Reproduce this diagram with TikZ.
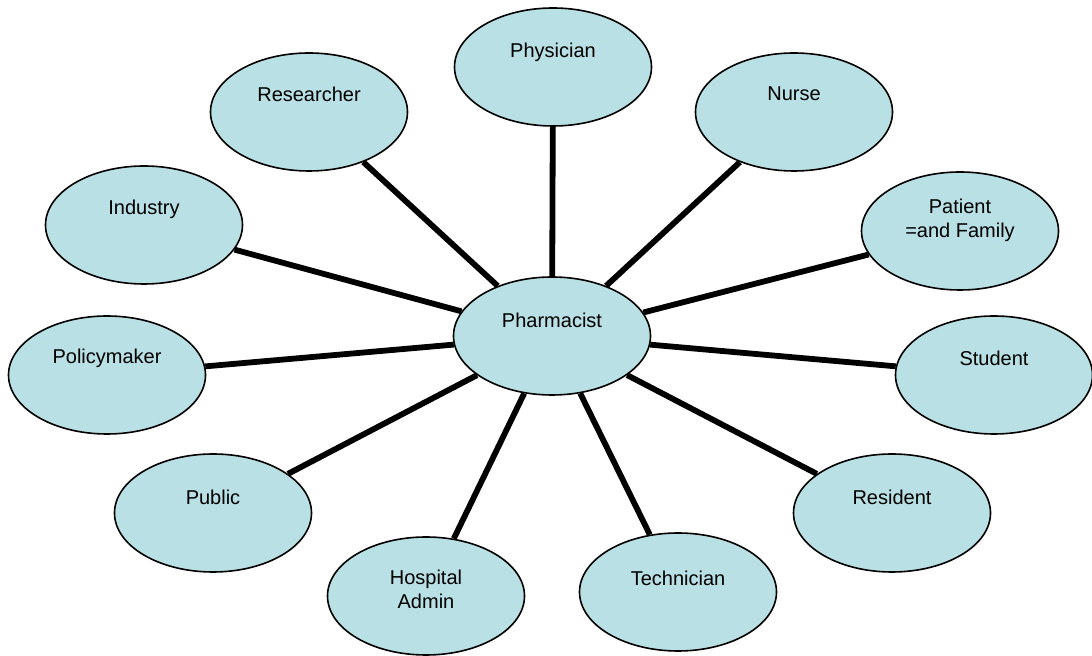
\documentclass[tikz,border=0pt]{standalone}
\usepackage{fontspec}
\setmainfont{Liberation Sans}
\usepackage{tikz}
\usetikzlibrary{calc,shapes.geometric}
\definecolor{bubblefill}{RGB}{185,224,228}
\newcommand{\stakeholder}[4]{
	\node[bubble] (#1) at (#2) {};
	\node[bubbletext] (#1-text) at ($(#1)+(0,#4)$) {#3};
}

\begin{document}
\begin{tikzpicture}[x=0.5pt,y=-0.5pt,
	bubble/.style={ellipse, draw=black, line width=0.8pt, fill=bubblefill,
		minimum width=98.5pt, minimum height=59pt, inner sep=0pt},
	bubbletext/.style={align=center, font=\fontsize{10}{12}\selectfont, inner sep=0pt},
	spoke/.style={line width=2.9pt}]
	\useasboundingbox (0,0) rectangle (1092,656);

	\stakeholder{pharm}{552,336}{Pharmacist}{-16}
	\stakeholder{phys}{553,67}{Physician}{-15}
	\stakeholder{research}{309,112}{Researcher}{-18}
	\stakeholder{nurse}{794,112}{Nurse}{-18}
	\stakeholder{industry}{144,225}{Industry}{-16}
	\stakeholder{patient}{960,231}{Patient\\=and Family}{-11}
	\stakeholder{policy}{107,375}{Policymaker}{-17}
	\stakeholder{student}{994,375}{Student}{-17}
	\stakeholder{public}{213,513}{Public}{-16}
	\stakeholder{resident}{892,513}{Resident}{-16}
	\stakeholder{admin}{426,596}{Hospital\\Admin}{-7}
	\stakeholder{tech}{678,592}{Technician}{-14}

	\foreach \other in {phys,research,nurse,industry,patient,policy,student,public,resident,admin,tech}
		\draw[spoke] (pharm) -- (\other);

\end{tikzpicture}
\end{document}
